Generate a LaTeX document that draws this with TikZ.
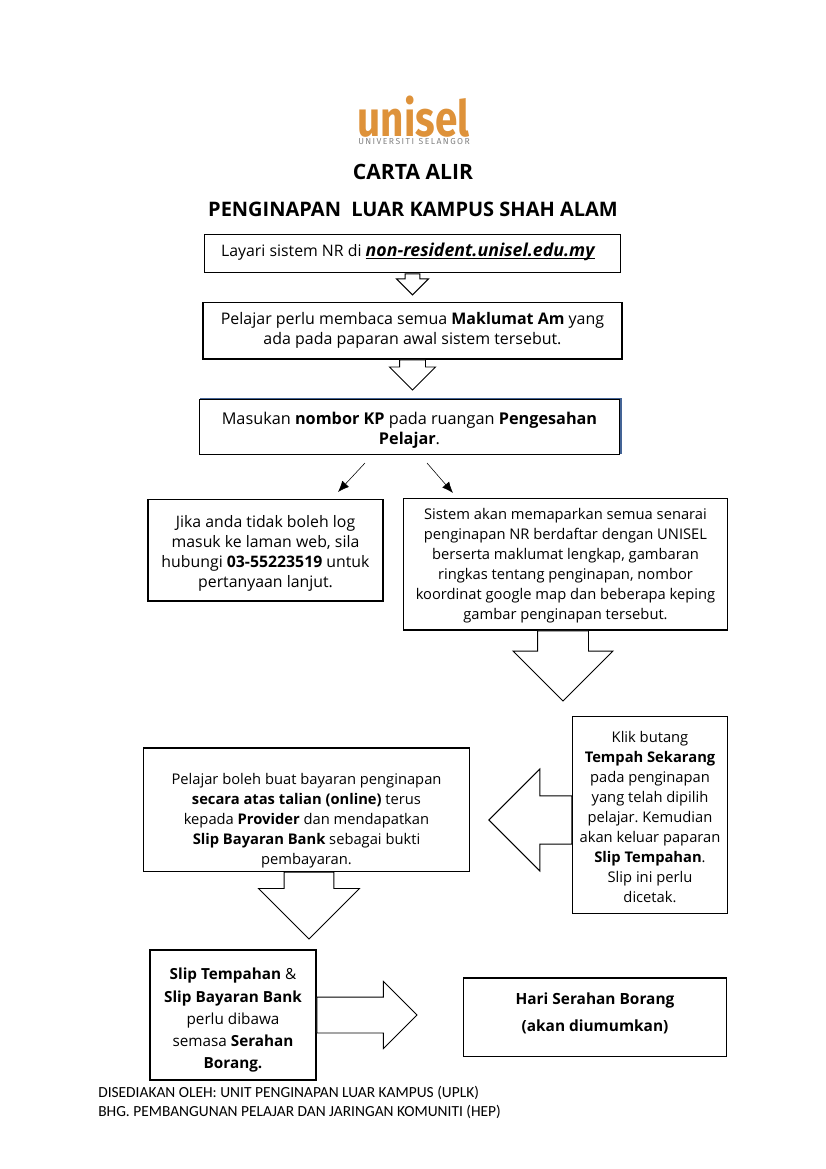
\documentclass[tikz,border=0pt]{standalone}
\usepackage{fontspec}
\setmainfont{Open Sans}
\newfontfamily\footfont{Carlito}
\newfontfamily\logofont{Fira Sans}
\usepackage{tikz}
\usetikzlibrary{arrows.meta,shapes.arrows,positioning}
\definecolor{LogoColor}{RGB}{222,146,58}
\definecolor{LogoGrey}{RGB}{130,130,130}
\definecolor{EdgeBlue}{RGB}{68,100,150}
\newcommand{\toppad}[1]{\rule{0pt}{#1pt}}
\newcommand{\linkline}[1]{\setbox0\hbox{#1}\rlap{\rule[-1.7pt]{\wd0}{0.9pt}}\box0}
\tikzset{
  box/.style={draw,line width=0.75pt,align=center,inner sep=0pt,font=\fontsize{10.6}{14.4}\selectfont},
  title/.style={inner sep=0pt,font=\fontsize{14.4}{16}\selectfont\bfseries},
  foot/.style={inner sep=0pt,anchor=west,font=\fontsize{11.1}{13}\footfont},
  blockdown/.style={draw,fill=white,line width=0.7pt,single arrow,anchor=tail,shape border rotate=270,inner ysep=0pt},
  blockside/.style={draw,fill=white,line width=0.7pt,single arrow,anchor=tail,inner xsep=0pt}
}
\begin{document}
\frenchspacing
\begin{tikzpicture}[x=0.72pt,y=-0.72pt]
\useasboundingbox (0,0) rectangle (826,1169);
% logo and headings
\node[inner sep=0pt,text=LogoColor,font=\fontsize{36}{36}\logofont\bfseries] (logo) at (413.5,116.5) {\scalebox{0.81}[1]{unisel}};
\node[inner sep=0pt,text=LogoGrey,font=\fontsize{6.2}{6}\logofont] (logosub) at (414,142) {U\,N\,I\,V\,E\,R\,S\,I\,T\,I\ \ S\,E\,L\,A\,N\,G\,O\,R};
\node[title,font=\fontsize{15.2}{16}\selectfont\bfseries] (t1) at (413,172) {CARTA ALIR};
\node[title] (t2) at (413,209) {PENGINAPAN\ \ LUAR KAMPUS SHAH ALAM};
% boxes
\node[box,minimum width=300pt,minimum height=28pt,font=\fontsize{11.4}{14.4}\selectfont] (b1) at (412.5,253.5) {Layari sistem NR di {\fontsize{12.8}{14.4}\selectfont\linkline{\textbf{\textit{non-resident.unisel.edu.my}}}}\hspace{6pt}\rule[-5pt]{0pt}{5pt}};
\node[box,minimum width=301.7pt,minimum height=41pt,font=\fontsize{11.5}{14.4}\selectfont] (b2) at (412.5,330.5) {Pelajar perlu membaca semua \textbf{Maklumat Am} yang\\ada pada paparan awal sistem tersebut.};
\draw[EdgeBlue,line width=0.8pt] (200,398.5) -- (621,398.5) -- (621,454);
\node[box,minimum width=303pt,minimum height=39.6pt,font=\fontsize{11.7}{14.4}\selectfont] (b3) at (409.5,427) {\toppad{13.6}Masukan \textbf{nombor KP} pada ruangan \textbf{Pengesahan}\\\textbf{Pelajar}.};
\node[box,minimum width=169.2pt,minimum height=73.4pt,font=\fontsize{11.4}{14.4}\selectfont] (b4) at (265.5,550) {\toppad{14}Jika anda tidak boleh log\\masuk ke laman web, sila\\hubungi \textbf{03-55223519} untuk\\pertanyaan lanjut.};
\node[box,minimum width=232.6pt,minimum height=95pt] (b5) at (565.5,564) {\toppad{11.1}Sistem akan memaparkan semua senarai\\penginapan NR berdaftar dengan UNISEL\\berserta maklumat lengkap, gambaran\\ringkas tentang penginapan, nombor\\koordinat google map dan beberapa keping\\gambar penginapan tersebut.};
\node[box,minimum width=111pt,minimum height=142.5pt] (b6) at (650,815) {\toppad{11}Klik butang\\\textbf{Tempah Sekarang}\\pada penginapan\\yang telah dipilih\\pelajar. Kemudian\\akan keluar paparan\\\textbf{Slip Tempahan}.\\Slip ini perlu\\dicetak.};
\node[box,minimum width=235.4pt,minimum height=88.6pt] (b7) at (306.5,809.5) {\toppad{24}Pelajar boleh buat bayaran penginapan\\\textbf{secara atas talian (online)} terus\\kepada \textbf{Provider} dan mendapatkan\\\textbf{Slip Bayaran Bank} sebagai bukti\\pembayaran.};
\node[box,minimum width=119.5pt,minimum height=93.6pt,font=\fontsize{11}{16}\selectfont] (b8) at (233,1015) {\toppad{16}\textbf{Slip Tempahan} \&\\\textbf{Slip Bayaran Bank}\\perlu dibawa\\semasa \textbf{Serahan}\\\textbf{Borang.}};
\node[box,minimum width=190pt,minimum height=56.2pt,font=\fontsize{11.1}{20}\selectfont\bfseries] (b9) at (595,1017) {Hari Serahan Borang\\(akan diumumkan)\rule[-7pt]{0pt}{7pt}};
% block arrows
\node[blockdown,inner xsep=5pt,minimum height=15.1pt,single arrow head extend=6.15pt] (a1) at (b1.south) {};
\node[blockdown,inner xsep=9pt,minimum height=21.6pt,single arrow head extend=7.2pt] (a2) at (b2.south) {};
\node[blockdown,inner xsep=18pt,minimum height=50.4pt,single arrow head extend=17.6pt] (a3) at ([xshift=-1.8pt]b5.south) {};
\node[blockside,shape border rotate=180,inner ysep=17pt,minimum height=59.8pt,single arrow head extend=19.4pt] (a4) at ([yshift=-3.6pt]b6.west) {};
\node[blockdown,inner xsep=17.6pt,minimum height=48.2pt,single arrow head extend=18.4pt] (a5) at ([xshift=1.8pt]b7.south) {};
\node[blockside,shape border rotate=0,inner ysep=12.6pt,minimum height=72pt,single arrow head extend=11.2pt] (a6) at (b8.east) {};
% small arrows
\coordinate (s1) at (365,463);
\coordinate (e1) at (338,492);
\coordinate (s2) at (427,463);
\coordinate (e2) at (453,493);
\draw[-{Latex[length=8pt,width=6.5pt]},line width=0.4pt] (s1) -- (e1);
\draw[-{Latex[length=8pt,width=6.5pt]},line width=0.4pt] (s2) -- (e2);
% footer
\node[foot] (f1) at (98,1093) {DISEDIAKAN OLEH: UNIT PENGINAPAN LUAR KAMPUS (UPLK)};
\node[foot] (f2) at (98,1112) {BHG. PEMBANGUNAN PELAJAR DAN JARINGAN KOMUNITI (HEP)};
\end{tikzpicture}
\end{document}
